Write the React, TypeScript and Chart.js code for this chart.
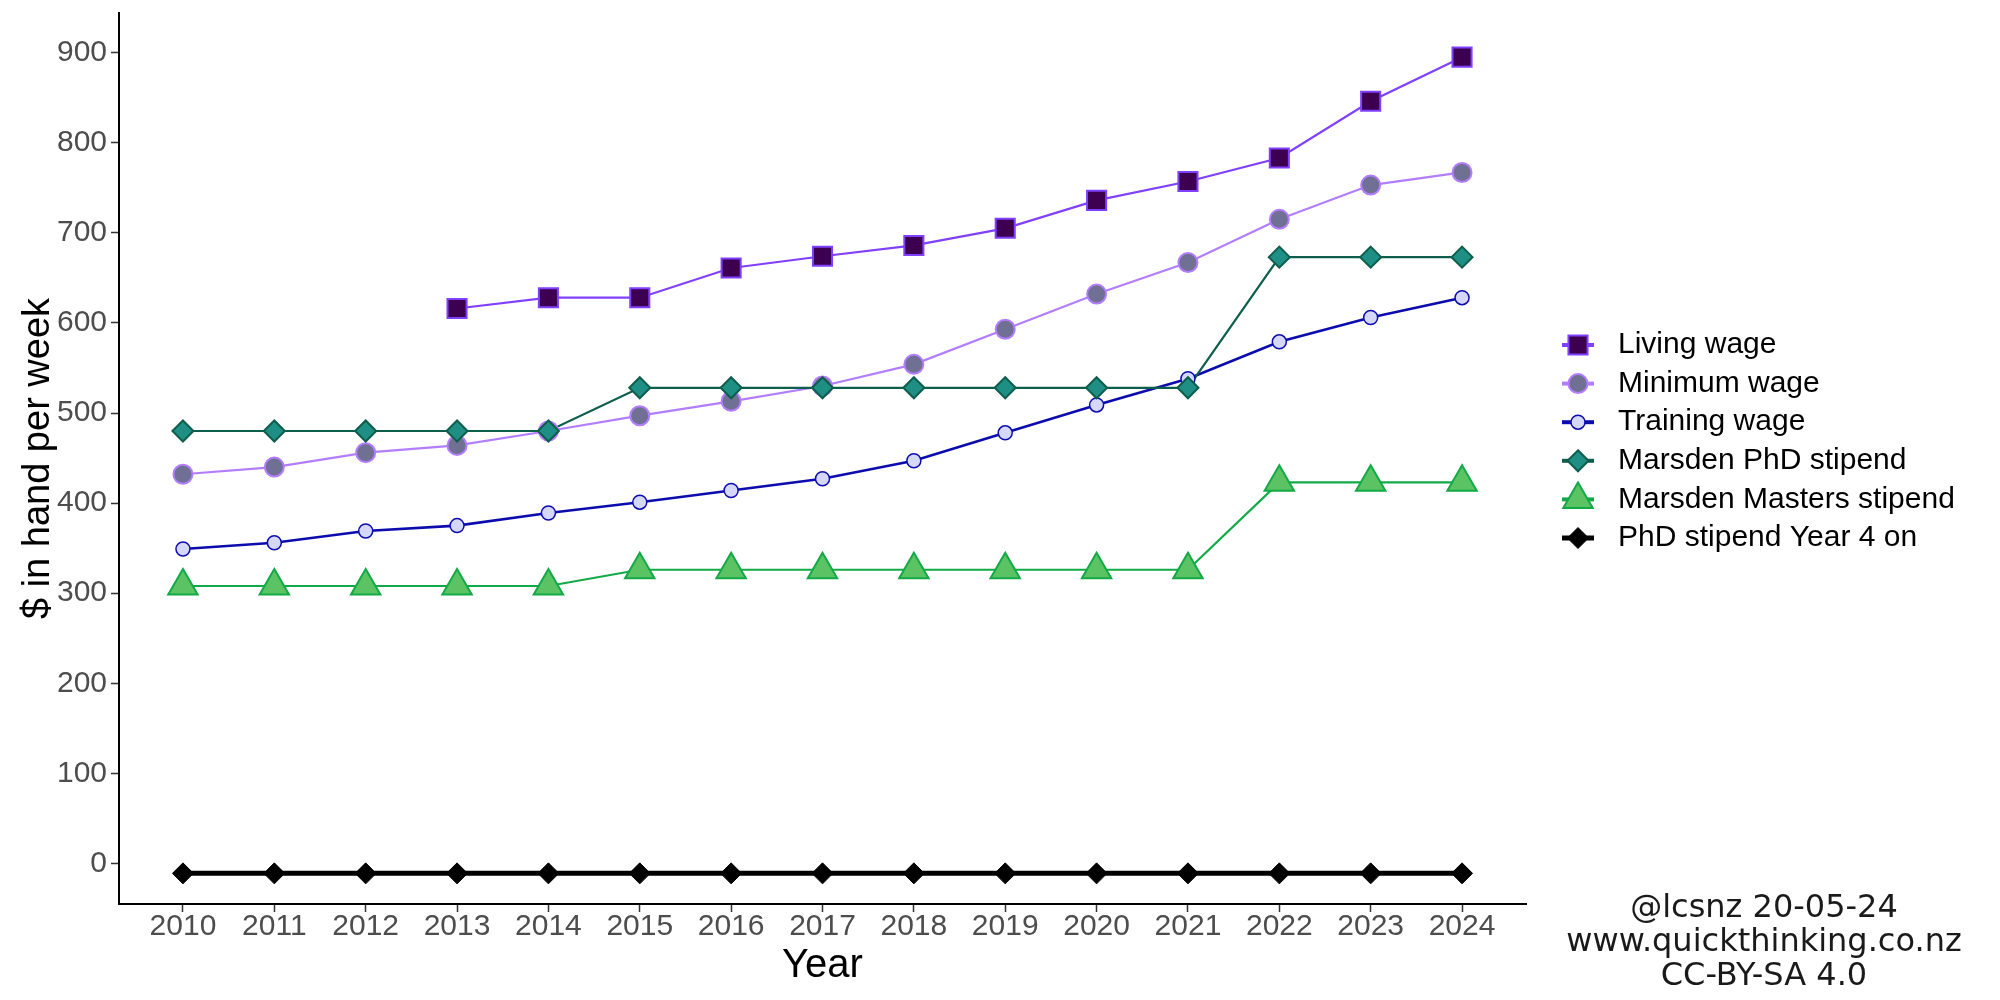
import React, { useEffect, useRef } from 'react';
import { Chart, registerables } from 'chart.js';

Chart.register(...registerables);

// ---------- data ----------
const years = [2010, 2011, 2012, 2013, 2014, 2015, 2016, 2017, 2018, 2019, 2020, 2021, 2022, 2023, 2024];
const yTickValues = [0, 100, 200, 300, 400, 500, 600, 700, 800, 900];

const seriesLabels = [
  'Living wage',
  'Minimum wage',
  'Training wage',
  'Marsden PhD stipend',
  'Marsden Masters stipend',
  'PhD stipend Year 4 on',
];

const livingWage = [null, null, null, 616, 628, 628, 661, 674, 686, 705, 736, 757, 783, 846, 895];
const minimumWage = [432, 440, 456, 464, 480, 497, 513, 530, 554, 593, 632, 667, 715, 753, 767];
const trainingWage = [349, 356, 369, 375, 389, 401, 414, 427, 447, 478, 509, 538, 579, 606, 628];
const marsdenPhd = [480, 480, 480, 480, 480, 528, 528, 528, 528, 528, 528, 528, 673, 673, 673];
const marsdenMasters = [308, 308, 308, 308, 308, 326, 326, 326, 326, 326, 326, 326, 423, 423, 423];
const phdYear4On = [-11, -11, -11, -11, -11, -11, -11, -11, -11, -11, -11, -11, -11, -11, -11];

const seriesValues = [livingWage, minimumWage, trainingWage, marsdenPhd, marsdenMasters, phdYear4On];

const captionLines = ['@lcsnz 20-05-24', 'www.quickthinking.co.nz', 'CC-BY-SA 4.0'];

// ---------- styles ----------
type Shape = 'rect' | 'circle' | 'rectRot' | 'triangle';
interface SeriesStyle {
  shape: Shape;
  radius: number;
  fill: string;
  border: string;
  borderWidth: number;
  line: string;
  lineWidth: number;
  legendLineWidth: number;
}

const styles: SeriesStyle[] = [
  { shape: 'rect', radius: 13.5, fill: '#3d0050', border: '#8040ff', borderWidth: 2, line: '#8040ff', lineWidth: 2.2, legendLineWidth: 4 },
  { shape: 'circle', radius: 9.5, fill: '#6f7093', border: '#b27eff', borderWidth: 2, line: '#b27eff', lineWidth: 2.2, legendLineWidth: 4 },
  { shape: 'circle', radius: 7, fill: '#d5d7fb', border: '#0c0cae', borderWidth: 1.5, line: '#0c0cae', lineWidth: 2.6, legendLineWidth: 4 },
  { shape: 'rectRot', radius: 10.5, fill: '#1f8f85', border: '#0e5e4c', borderWidth: 2, line: '#0e5e4c', lineWidth: 2.2, legendLineWidth: 4 },
  { shape: 'triangle', radius: 17, fill: '#5bc364', border: '#12aa46', borderWidth: 2, line: '#12aa46', lineWidth: 2.2, legendLineWidth: 4 },
  { shape: 'rectRot', radius: 10.5, fill: '#000000', border: '#000000', borderWidth: 1, line: '#000000', lineWidth: 5, legendLineWidth: 5 },
];

const SANS = '"Liberation Sans", Arial, sans-serif';
const CAPTION_FONT = '"DejaVu Sans", Verdana, sans-serif';

function drawMarker(ctx: CanvasRenderingContext2D, s: SeriesStyle, x: number, y: number) {
  const r = s.radius;
  ctx.beginPath();
  if (s.shape === 'circle') {
    ctx.arc(x, y, r, 0, Math.PI * 2);
  } else if (s.shape === 'rect') {
    const h = r * Math.SQRT1_2;
    ctx.rect(x - h, y - h, 2 * h, 2 * h);
  } else if (s.shape === 'rectRot') {
    ctx.moveTo(x, y - r);
    ctx.lineTo(x + r, y);
    ctx.lineTo(x, y + r);
    ctx.lineTo(x - r, y);
    ctx.closePath();
  } else {
    ctx.moveTo(x, y - r);
    ctx.lineTo(x + r * Math.sin((2 * Math.PI) / 3), y - r * Math.cos((2 * Math.PI) / 3));
    ctx.lineTo(x + r * Math.sin((4 * Math.PI) / 3), y - r * Math.cos((4 * Math.PI) / 3));
    ctx.closePath();
  }
  ctx.fillStyle = s.fill;
  ctx.fill();
  ctx.strokeStyle = s.border;
  ctx.lineWidth = s.borderWidth;
  ctx.stroke();
}

const legendPlugin = {
  id: 'customLegendCaption',
  afterDraw(chart: any) {
    const ctx: CanvasRenderingContext2D = chart.ctx;
    ctx.save();
    const lineX0 = 1562;
    const lineX1 = 1594;
    const markX = 1578;
    const textX = 1618;
    const top = 345;
    const step = 38.6;
    seriesLabels.forEach((label, i) => {
      const s = styles[i];
      const y = top + i * step;
      ctx.beginPath();
      ctx.strokeStyle = s.line;
      ctx.lineWidth = s.legendLineWidth;
      ctx.moveTo(lineX0, y);
      ctx.lineTo(lineX1, y);
      ctx.stroke();
      drawMarker(ctx, s, markX, y);
      ctx.fillStyle = '#000000';
      ctx.font = `30px ${SANS}`;
      ctx.textAlign = 'left';
      ctx.textBaseline = 'middle';
      ctx.fillText(label, textX, y);
    });
    ctx.font = `32px ${CAPTION_FONT}`;
    ctx.fillStyle = '#1a1a1a';
    ctx.textAlign = 'center';
    ctx.textBaseline = 'middle';
    captionLines.forEach((t, i) => {
      ctx.fillText(t, 1764, 909 + i * 34);
    });
    ctx.restore();
  },
};

export default function App() {
  const canvasRef = useRef<HTMLCanvasElement | null>(null);

  useEffect(() => {
    if (!canvasRef.current) return;

    const lineSets = seriesValues.map((vals, i) => ({
      label: seriesLabels[i] + ' line',
      data: years
        .map((yr, j) => ({ x: yr, y: vals[j] }))
        .filter((p) => p.y !== null && p.y !== undefined),
      borderColor: styles[i].line,
      borderWidth: styles[i].lineWidth,
      pointRadius: 0,
      pointHoverRadius: 0,
      fill: false,
      tension: 0,
      order: 200 - i,
    }));

    const pointSets = seriesValues.map((vals, i) => ({
      label: seriesLabels[i],
      data: years
        .map((yr, j) => ({ x: yr, y: vals[j] }))
        .filter((p) => p.y !== null && p.y !== undefined),
      showLine: false,
      pointStyle: styles[i].shape,
      pointRadius: styles[i].radius,
      pointHoverRadius: styles[i].radius,
      pointBackgroundColor: styles[i].fill,
      pointBorderColor: styles[i].border,
      pointBorderWidth: styles[i].borderWidth,
      borderColor: styles[i].border,
      backgroundColor: styles[i].fill,
      order: 100 - i,
    }));

    const chart = new Chart(canvasRef.current, {
      type: 'line',
      data: { datasets: [...lineSets, ...pointSets] as any },
      options: {
        animation: false,
        responsive: false,
        maintainAspectRatio: false,
        layout: { autoPadding: false, padding: { left: 0, top: 13, right: 474, bottom: 0 } },
        plugins: {
          legend: { display: false },
          tooltip: { enabled: false },
        },
        scales: {
          x: {
            type: 'linear',
            min: 2009.3,
            max: 2024.7,
            afterBuildTicks: (scale: any) => {
              scale.ticks = years.map((v) => ({ value: v }));
            },
            afterFit: (scale: any) => {
              scale.height = 96;
              scale.paddingLeft = 0;
              scale.paddingRight = 0;
            },
            ticks: {
              callback: (v: any) => String(v),
              color: '#4d4d4d',
              font: { family: SANS, size: 30, lineHeight: 1 },
              padding: 0,
              maxRotation: 0,
              autoSkip: false,
            },
            grid: {
              display: true,
              drawOnChartArea: false,
              drawTicks: true,
              tickLength: 8,
              tickWidth: 1.5,
              tickColor: '#333333',
            },
            border: { display: true, color: '#000000', width: 2 },
            title: {
              display: true,
              text: 'Year',
              color: '#000000',
              font: { family: SANS, size: 40 },
              padding: { top: 0, bottom: 10 },
            },
          },
          y: {
            type: 'linear',
            min: -45,
            max: 944,
            afterBuildTicks: (scale: any) => {
              scale.ticks = yTickValues.map((v) => ({ value: v }));
            },
            afterFit: (scale: any) => {
              scale.width = 119;
              scale.paddingTop = 0;
              scale.paddingBottom = 0;
            },
            ticks: {
              callback: (v: any) => String(v),
              color: '#4d4d4d',
              font: { family: SANS, size: 30 },
              padding: 4,
            },
            grid: {
              display: true,
              drawOnChartArea: false,
              drawTicks: true,
              tickLength: 8,
              tickWidth: 1.5,
              tickColor: '#333333',
            },
            border: { display: true, color: '#000000', width: 2 },
            title: {
              display: true,
              text: '$ in hand per week',
              color: '#000000',
              font: { family: SANS, size: 38 },
              padding: { top: 16, bottom: 0 },
            },
          },
        },
      },
      plugins: [legendPlugin],
    });

    return () => {
      chart.destroy();
    };
  }, []);

  return (
    <div style={{ position: 'fixed', left: 0, top: 0, width: 2000, height: 1000, background: '#ffffff' }}>
      <canvas ref={canvasRef} width={2000} height={1000} style={{ display: 'block', width: 2000, height: 1000 }} />
    </div>
  );
}
